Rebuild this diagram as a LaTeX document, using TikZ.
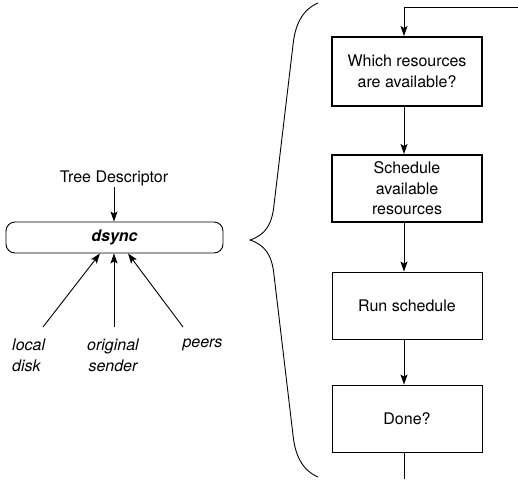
\documentclass[tikz,border=0pt]{standalone}
\usepackage{fontspec}
\setmainfont{TeX Gyre Heros}
\usetikzlibrary{arrows.meta,calc}
\begin{document}
\begin{tikzpicture}[x=1pt,y=-1pt,
  txt/.style={font=\fontsize{16}{20.5}\selectfont, align=center, inner sep=0pt},
  itxt/.style={font=\fontsize{16}{20.5}\selectfont\itshape, inner sep=0pt},
  flow/.style={draw, line width=0.9pt, minimum width=150pt, minimum height=67pt, txt},
  flowthick/.style={flow, line width=2pt},
  arr/.style={line width=0.9pt, -{Stealth[length=10pt,width=7pt,inset=2pt]}},
  ln/.style={line width=0.9pt}]
\useasboundingbox (0,0) rectangle (518,479);

% right flow
\node[flowthick, minimum height=69pt] (q1) at (407,71.5) {Which resources\\are available?};
\node[flowthick] (q2) at (407,188.5) {Schedule\\available\\resources};
\node[flow] (q3) at (407,305.5) {Run schedule};
\node[flow] (q4) at (407,418.5) {Done?};
\coordinate (topR) at (518,7);
\coordinate (topL) at (404,7);
\coordinate (botE) at (404,479);

\draw[arr] (topR) -- (topL) -- (topL |- q1.north);
\draw[arr] (q1.south -| topL) -- (q2.north -| topL);
\draw[arr] (q2.south -| topL) -- (q3.north -| topL);
\draw[arr] (q3.south -| topL) -- (q4.north -| topL);
\draw[ln] (q4.south -| topL) -- (botE);

% brace
\draw[ln] (318,3) .. controls (302,10) and (295,25) .. (293,45) -- (274,205)
  .. controls (272,225) and (265,235) .. (250,240)
  .. controls (265,245) and (272,255) .. (274,275) -- (293,435)
  .. controls (295,455) and (302,470) .. (318,477);

% left
\node[draw, ln, rounded corners=9pt, minimum width=217pt, minimum height=31pt, inner sep=0pt,
  font=\fontsize{16}{20}\selectfont\bfseries\itshape] (ds) at (114.5,237.5) {dsync};
\node[txt] (td) at (114,178) {Tree Descriptor};
\coordinate (tdb) at (114,187);
\draw[arr] (tdb) -- (ds.north -| tdb);

\coordinate (s1) at (43,327);
\coordinate (s2) at (114,327);
\coordinate (s3) at (183,327);
\draw[arr] (s1) -- ($(ds.south)+(-14.5,0)$);
\draw[arr] (s2) -- (ds.south -| s2);
\draw[arr] (s3) -- ($(ds.south)+(13.5,0)$);

\node[itxt, align=left, anchor=north west] (l1) at (12,339) {local\\disk};
\node[itxt, align=center, anchor=north] (l2) at (113,339) {original\\sender};
\node[itxt, anchor=north] (l3) at (202.5,339) {peers};
\end{tikzpicture}
\end{document}
